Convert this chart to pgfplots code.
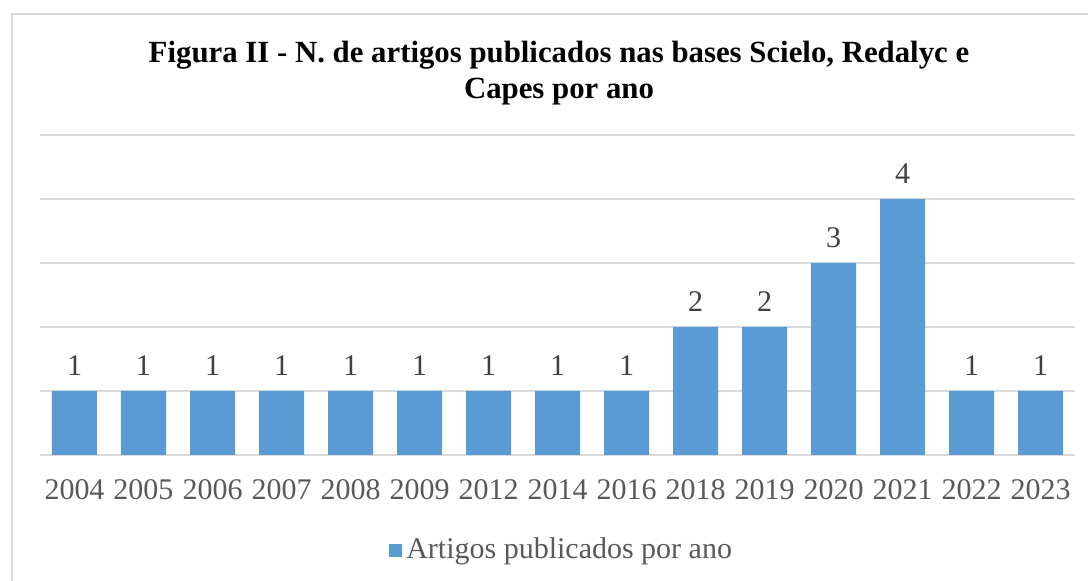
\documentclass[border=0pt]{standalone}
\usepackage{pgfplots}
\pgfplotsset{compat=1.18}
\usepackage{fontspec}
\setmainfont{Liberation Serif}
\definecolor{barblue}{HTML}{5B9BD5}
\definecolor{gridgray}{HTML}{D9D9D9}
\definecolor{ticktext}{HTML}{595959}
\definecolor{labeltext}{HTML}{404040}
\begin{document}
\begin{tikzpicture}
\useasboundingbox (0,0) rectangle (544pt,290.5pt);
\draw[gridgray, line width=1pt] (6pt,-2pt) -- (6pt,283.5pt) -- (546pt,283.5pt);
\node[font=\fontsize{15.4}{18}\selectfont\bfseries, align=center, text=black] at (279.5pt,254pt)
  {Figura II - N. de artigos publicados nas bases Scielo, Redalyc e\\Capes por ano};
\begin{axis}[
  at={(20pt,63pt)}, anchor=south west,
  scale only axis, width=517.5pt, height=160pt,
  xmin=-0.5, xmax=14.5, ymin=0, ymax=5,
  axis line style={draw=none},
  ytick={0,1,2,3,4,5}, yticklabels={},
  ymajorgrids, grid style={gridgray, line width=0.8pt},
  major tick length=0pt,
  xtick=data,
  xticklabels={2004,2005,2006,2007,2008,2009,2012,2014,2016,2018,2019,2020,2021,2022,2023},
  xticklabel style={font=\fontsize{15}{18}\selectfont, text=ticktext, yshift=-8.5pt},
  /pgf/number format/assume math mode=true,
  ybar, bar width=22.5pt,
  nodes near coords,
  nodes near coords style={font=\fontsize{15}{18}\selectfont, text=labeltext, yshift=4pt},
  legend style={at={(0.505,-0.297)}, anchor=center, draw=none, fill=none,
     font=\fontsize{15}{18}\selectfont, text=ticktext},
  legend image code/.code={\fill[barblue] (0pt,-3.25pt) rectangle (6.5pt,3.25pt);},
]
\addplot[fill=barblue, draw=none] coordinates {
  (0,1) (1,1) (2,1) (3,1) (4,1) (5,1) (6,1) (7,1) (8,1)
  (9,2) (10,2) (11,3) (12,4) (13,1) (14,1)
};
\addlegendentry{Artigos publicados por ano}
\end{axis}
\end{tikzpicture}
\end{document}
